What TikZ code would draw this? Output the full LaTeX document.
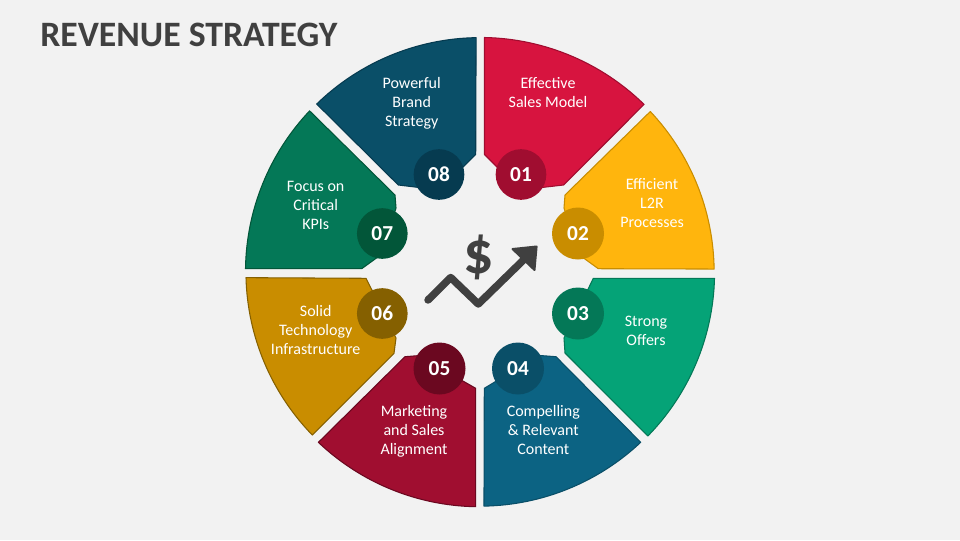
\documentclass[tikz,border=0pt]{standalone}
\usepackage{fontspec}
\setmainfont{Carlito}
\definecolor{bg}{HTML}{F2F2F2}
\definecolor{ink}{HTML}{404040}
\definecolor{aF}{HTML}{D7143F}\definecolor{aD}{HTML}{A00D30}
\definecolor{bF}{HTML}{FFB50D}\definecolor{bD}{HTML}{C98D00}
\definecolor{cF}{HTML}{05A377}\definecolor{cD}{HTML}{047857}
\definecolor{dF}{HTML}{0C6383}\definecolor{dD}{HTML}{0A4F68}
\definecolor{eF}{HTML}{A00E30}\definecolor{eD}{HTML}{6B0820}
\definecolor{fF}{HTML}{C98D00}\definecolor{fD}{HTML}{856000}
\definecolor{gF}{HTML}{047857}\definecolor{gD}{HTML}{025639}
\definecolor{hF}{HTML}{0A4F68}\definecolor{hD}{HTML}{063B50}
\tikzset{
  seg/.style 2 args={fill=#1,draw=#2,line width=.8pt,line join=round},
  lab/.style={text=white,align=center,inner sep=0pt,font=\fontsize{12}{14.25}\selectfont},
  num/.style={circle,fill=#1,text=white,inner sep=0pt,minimum size=38pt,
    font=\fontsize{16}{18}\selectfont\bfseries},
  ttl/.style={text=ink,anchor=base west,inner sep=0pt,font=\fontsize{26.8}{30}\selectfont\bfseries},
}
\begin{document}
\begin{tikzpicture}[x=.75pt,y=-.75pt]
\fill[bg] (0,0) rectangle (960,540);
\useasboundingbox (0,0) rectangle (960,540);
\node[ttl] (title) at (40,46) {REVENUE STRATEGY};
% segments
\draw[seg={aF}{aD}] (484.5,37.5) arc[start angle=-88.9,end angle=-45.6,radius=234.5] -- (563.5,185) -- (520,190) -- (484.5,154.5) -- cycle;
\draw[seg={bF}{bD}] (650.3,111.5) arc[start angle=-43.3,end angle=-0.8,radius=234.5] -- (598.3,268.7) -- (578,254) -- (564,208) -- (565,195) -- cycle;
\draw[seg={cF}{cD}] (714.5,278.3) arc[start angle=1.5,end angle=44.3,radius=234.5] -- (565,353) -- (564,338) -- (578,310) -- (593.3,278.3) -- cycle;
\draw[seg={dF}{dD}] (640.7,442.3) arc[start angle=46.7,end angle=89,radius=234.5] -- (484.3,388.3) -- (518,368) -- (540,355.5) -- (556,356.7) -- cycle;
\draw[seg={eF}{eD}] (475.7,506.7) arc[start angle=91,end angle=133.5,radius=234.5] -- (405,356.7) -- (420,355.5) -- (440,368) -- (475.7,388.3) -- cycle;
\draw[seg={fF}{fD}] (312.3,435) arc[start angle=135.8,end angle=178.5,radius=234.5] -- (366,278.3) -- (382,310) -- (396,338) -- (394,353.3) -- cycle;
\draw[seg={gF}{gD}] (245.5,268.7) arc[start angle=180.8,end angle=223.4,radius=234.5] -- (395,195) -- (396,208) -- (382,254) -- (361.7,268.7) -- cycle;
\draw[seg={hF}{hD}] (316.7,104) arc[start angle=225.8,end angle=269,radius=234.5] -- (475.7,154.5) -- (440,190) -- (415,187) -- (398.3,185) -- cycle;
% number badges
\node[num=aD] (n1) at (521,174.5) {01};
\node[num=bD,minimum size=39pt] (n2) at (578,233.5) {02};
\node[num=cD,minimum size=39pt] (n3) at (578,313.5) {03};
\node[num=dD,minimum size=39pt] (n4) at (518,368.5) {04};
\node[num=eD,minimum size=39pt] (n5) at (439.5,368.5) {05};
\node[num=fD] (n6) at (382.3,313.5) {06};
\node[num=gD] (n7) at (382.3,233.5) {07};
\node[num=hD] (n8) at (439,174.5) {08};
% labels
\node[lab] (t1) at (548,92.2) {Effective\\Sales Model};
\node[lab] (t2) at (652,203) {Efficient\\L2R\\Processes};
\node[lab] (t3) at (646,330.5) {Strong\\Offers};
\node[lab] (t4) at (543.3,430) {Compelling\\\& Relevant\\Content};
\node[lab] (t5) at (414,431) {Marketing\\and Sales\\Alignment};
\node[lab] (t6) at (315.7,330) {Solid\\Technology\\Infrastructure};
\node[lab] (t7) at (315.7,205) {Focus on\\Critical\\KPIs};
\node[lab] (t8) at (411.7,103.3) {Powerful\\Brand\\Strategy};
% icon
\draw[ink,line width=5.6pt,line cap=round,line join=round] (428,300) -- (450.7,277.5) -- (478.3,304) -- (525,258.5);
\fill[ink,draw=ink,line width=1.5pt,line join=round] (512.5,249) -- (536.6,246.5) -- (534.5,270) -- cycle;
\node[text=ink,inner sep=0pt,font=\fontsize{45}{48}\selectfont\bfseries] (dollar) at (478.3,257.5) {\$};
\end{tikzpicture}
\end{document}
